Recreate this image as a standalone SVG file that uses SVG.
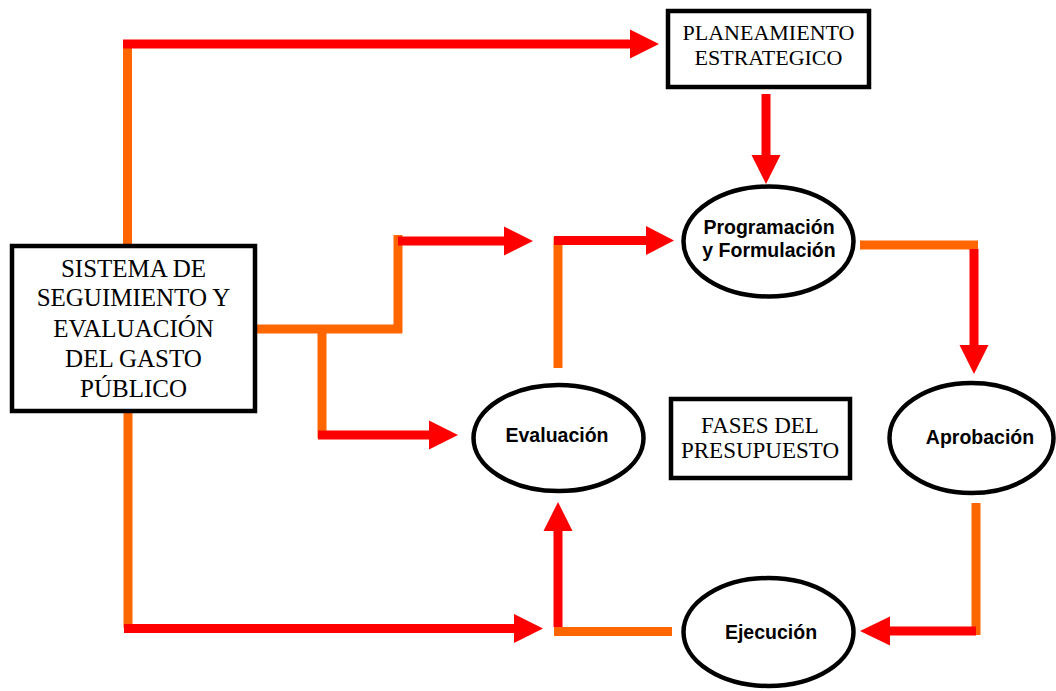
<svg xmlns="http://www.w3.org/2000/svg" width="1056" height="691" viewBox="0 0 1056 691">
<style>
.o{stroke:#FF6600;stroke-width:9;fill:none}
.r{stroke:#FF0000;stroke-width:9;fill:none}
.ah{fill:#FF0000}
.box{fill:#fff;stroke:#000;stroke-width:4.5}
.ell{fill:#fff;stroke:#000;stroke-width:4.5}
.tr{font-family:"Liberation Serif","Times New Roman",serif;fill:#000;text-anchor:middle}
.ts{font-family:"Liberation Sans",Arial,sans-serif;font-weight:bold;fill:#000;text-anchor:middle;font-size:19.5px}
</style>
<rect width="1056" height="691" fill="#fff"/>
<g id="connectors">
<line class="o" x1="127.5" y1="40" x2="127.5" y2="244"/>
<line class="r" x1="123" y1="44" x2="631" y2="44"/>
<polygon class="ah" points="630,29.5 659,44 630,58.5"/>
<line class="r" x1="766" y1="94" x2="766" y2="156"/>
<polygon class="ah" points="751.5,155 766,184 780.5,155"/>
<line class="o" x1="257" y1="329" x2="402" y2="329"/>
<line class="o" x1="398" y1="235" x2="398" y2="333"/>
<line class="r" x1="398" y1="241" x2="505" y2="241"/>
<polygon class="ah" points="504,226.5 533,241 504,255.5"/>
<line class="o" x1="322" y1="329" x2="322" y2="438"/>
<line class="r" x1="318" y1="435" x2="430" y2="435"/>
<polygon class="ah" points="429,420.5 458,435 429,449.5"/>
<line class="o" x1="558" y1="368" x2="558" y2="237"/>
<line class="r" x1="554" y1="240.5" x2="647" y2="240.5"/>
<polygon class="ah" points="646,226 674,240.5 646,255"/>
<line class="o" x1="860" y1="245" x2="978" y2="245"/>
<line class="r" x1="974" y1="249" x2="974" y2="346"/>
<polygon class="ah" points="959.5,345 974,374 988.5,345"/>
<line class="o" x1="976" y1="503" x2="976" y2="635"/>
<line class="r" x1="976" y1="631" x2="889" y2="631"/>
<polygon class="ah" points="890,616.5 860,631 890,645.5"/>
<line class="o" x1="672" y1="631.5" x2="554" y2="631.5"/>
<line class="r" x1="558" y1="627" x2="558" y2="530"/>
<polygon class="ah" points="543.5,531 558,502 572.5,531"/>
<line class="o" x1="128" y1="413" x2="128" y2="628"/>
<line class="r" x1="124" y1="628.5" x2="515" y2="628.5"/>
<polygon class="ah" points="514,614 543,628.5 514,643"/>
</g>
<g id="planeamiento">
<rect class="box" x="668" y="11" width="201" height="76"/>
<text class="tr" x="768.5" y="40" font-size="22">PLANEAMIENTO</text>
<text class="tr" x="768.5" y="65" font-size="22">ESTRATEGICO</text>
</g>
<g id="sistema">
<rect class="box" x="12" y="246" width="243" height="165"/>
<text class="tr" font-size="25"><tspan x="133.5" y="277">SISTEMA DE</tspan><tspan x="133.5" y="306">SEGUIMIENTO Y</tspan><tspan x="133.5" y="337">EVALUACIÓN</tspan><tspan x="133.5" y="367">DEL GASTO</tspan><tspan x="133.5" y="397">PÚBLICO</tspan></text>
</g>
<g id="programacion">
<ellipse class="ell" cx="768.5" cy="241.5" rx="85" ry="55"/>
<text class="ts" x="769" y="234">Programación</text>
<text class="ts" x="769" y="257">y Formulación</text>
</g>
<g id="aprobacion">
<ellipse class="ell" cx="971.5" cy="438" rx="82" ry="55"/>
<text class="ts" x="980" y="444">Aprobación</text>
</g>
<g id="evaluacion">
<ellipse class="ell" cx="558.5" cy="438" rx="85" ry="53"/>
<text class="ts" x="557" y="442">Evaluación</text>
</g>
<g id="ejecucion">
<ellipse class="ell" cx="768.5" cy="632" rx="85" ry="54"/>
<text class="ts" x="771" y="639">Ejecución</text>
</g>
<g id="fases">
<rect class="box" x="671" y="399" width="179" height="79"/>
<text class="tr" x="760" y="433" font-size="23">FASES DEL</text>
<text class="tr" x="760" y="458" font-size="23">PRESUPUESTO</text>
</g>
</svg>
